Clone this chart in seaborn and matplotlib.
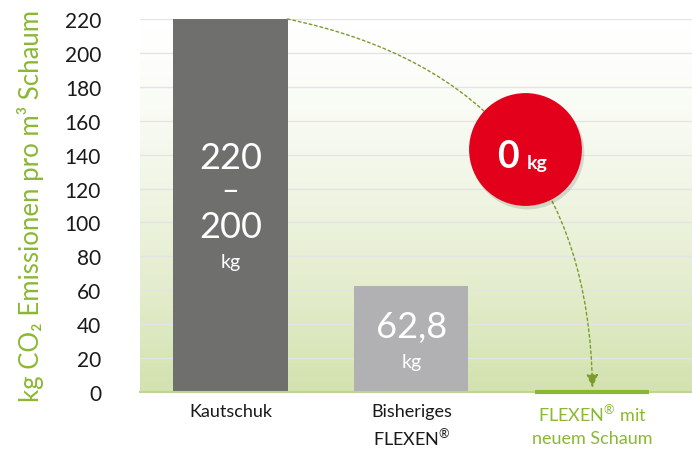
import numpy as np
import seaborn as sns
import matplotlib.pyplot as plt
from matplotlib.colors import LinearSegmentedColormap

# data
categories = ["Kautschuk", "Bisheriges\nFLEXEN$^{®}$", "FLEXEN$^{®}$ mit\nneuem Schaum"]
values = [220, 62.8, 0]
bar_colors = ["#6f6f6e", "#b1b1b3", "#8ab833"]
yticks = list(range(0, 221, 20))

green = "#8ab833"

sns.set_style("white")
plt.rcParams['font.family'] = ['Lato', 'DejaVu Sans']
plt.rcParams['mathtext.fontset'] = 'custom'
plt.rcParams['mathtext.rm'] = 'Lato'
plt.rcParams['mathtext.default'] = 'regular'

fig = plt.figure(figsize=(6.92, 4.52), dpi=100)
ax = fig.add_axes([140 / 692, 59 / 452, 552 / 692, 373 / 452])

# background gradient white (top) -> light green (bottom)
cmap = LinearSegmentedColormap.from_list("bg", ["#ffffff", "#d3e2af"])
grad = np.linspace(0, 1, 256) ** 1.4
ax.imshow(grad.reshape(-1, 1), extent=[-0.5, 2.55, 0, 220], aspect='auto',
          cmap=cmap, zorder=0, vmin=0, vmax=1)

sns.barplot(x=categories, y=values, hue=categories, palette=bar_colors,
            width=0.63, legend=False, ax=ax, zorder=2, saturation=1, linewidth=0)

# the zero bar shown as a green line on the baseline
ax.plot([2 - 0.315, 2 + 0.315], [values[2], values[2]], color=green, lw=3,
        solid_capstyle='butt', clip_on=False, zorder=3)

ax.set_xlim(-0.5, 2.55)
ax.set_ylim(0, 220)
ax.set_yticks(yticks)
ax.yaxis.grid(True, color="#e4e4e4", lw=1)
ax.set_axisbelow(True)
for s in ["top", "right", "left"]:
    ax.spines[s].set_visible(False)
ax.spines["bottom"].set_color("#bfd396")
ax.spines["bottom"].set_linewidth(1.5)
ax.tick_params(axis='y', length=0, pad=28, labelsize=15, labelcolor="#1a1a1a")
ax.tick_params(axis='x', length=0, pad=8, labelsize=13, labelcolor="#1a1a1a")
for lab in ax.get_xticklabels():
    lab.set_verticalalignment('top')
    lab.set_linespacing(1.5)
ax.get_xticklabels()[2].set_color(green)

ax.set_ylabel("kg CO₂ Emissionen pro m³ Schaum", color=green, fontsize=18.5, labelpad=15)
ax.set_xlabel("")

# value labels in bars
txt = dict(color="white", ha="center", va="center")
ax.text(0, 138.6, "220", fontsize=26, **txt)
ax.text(0, 119.2, "–", fontsize=22, **txt)
ax.text(0, 97.9, "200", fontsize=26, **txt)
ax.text(0, 76.7, "kg", fontsize=14, **txt)
ax.text(1, 38.9, "62,8", fontsize=26, **txt)
ax.text(1, 17.7, "kg", fontsize=14, **txt)

# dotted arrow from top of first bar to new foam
ax.annotate("", xy=(2.0, 2.5), xytext=(0.315, 220),
            arrowprops=dict(arrowstyle="-|>,head_length=0.8,head_width=0.35",
                            connectionstyle="arc3,rad=-0.4", color="#7a9c2c",
                            lw=1, linestyle=(0, (2, 2)), shrinkA=0, shrinkB=0),
            zorder=4, annotation_clip=False)

# red circle
cx, cy = 1.627, 143.1
ax.scatter([cx + 0.012], [cy - 1.5], s=6700, color="#000000", alpha=0.12, zorder=5,
           linewidths=0)
ax.scatter([cx], [cy], s=6600, color="#e2001a", zorder=6, linewidths=0)
ax.text(cx - 0.095, cy - 4, "0", fontsize=27, fontweight="bold", color="white",
        ha="center", va="center", zorder=7)
ax.text(cx + 0.065, cy - 7.5, "kg", fontsize=14, fontweight="bold", color="white",
        ha="center", va="center", zorder=7)

fig.savefig("out.png", dpi=100)
